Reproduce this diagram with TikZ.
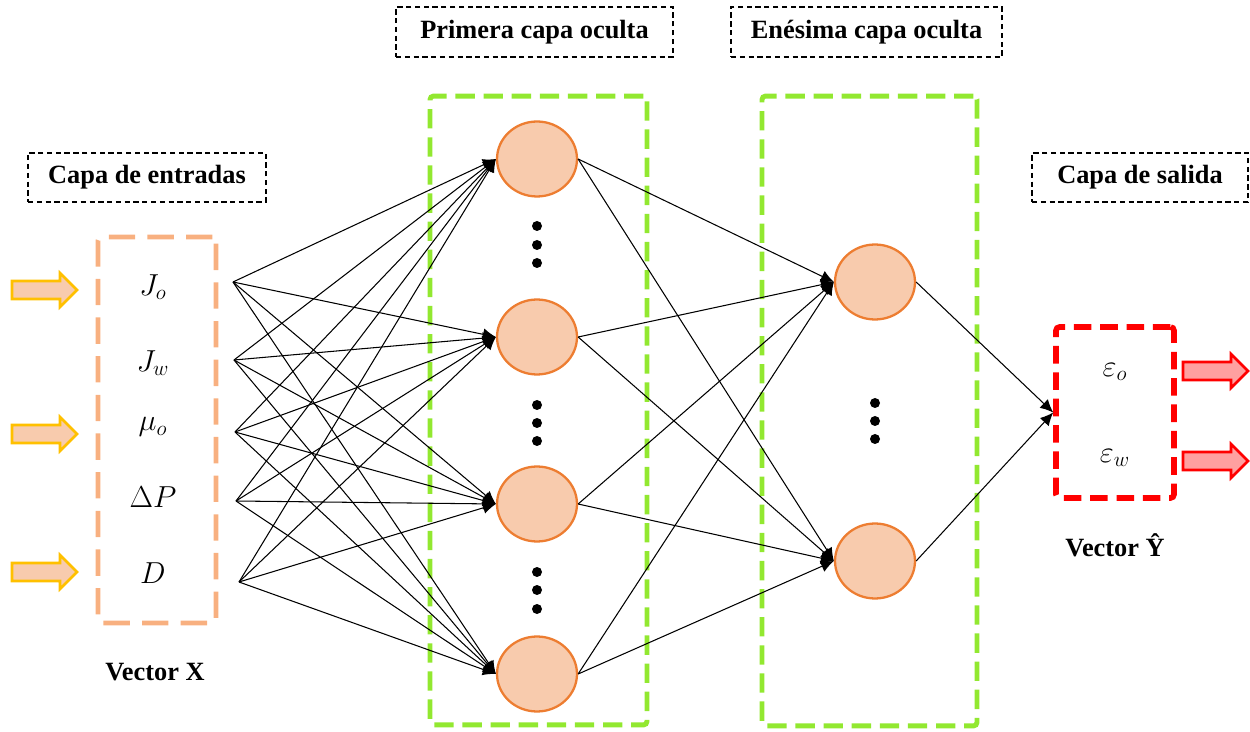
\documentclass[tikz,border=0pt]{standalone}
\usepackage{amsmath}
\usepackage{fontspec}
\setmainfont{Liberation Serif}
\usepackage{tikz}
\usetikzlibrary{arrows.meta,shapes.geometric}
\definecolor{inorange}{RGB}{248,176,128}
\definecolor{neuronfill}{RGB}{248,203,173}
\definecolor{neuronline}{RGB}{237,125,49}
\definecolor{layergreen}{RGB}{146,232,48}
\definecolor{arrowgold}{RGB}{255,192,0}
\definecolor{outfill}{RGB}{255,160,160}
\tikzset{
  block arrow/.pic={
    \draw [pic actions] (0,-9) -- (48,-9) -- (48,-17) -- (65,0) -- (48,17) -- (48,9) -- (0,9) -- cycle;
  },
  neuron/.style={ellipse, draw=neuronline, fill=neuronfill, line width=1.3pt,
    minimum width=1.6cm, minimum height=1.5cm, inner sep=0pt},
  layer box/.style={draw, line width=2.8pt, rounded corners=2pt, inner sep=0pt},
  layer title/.style={draw, densely dashed, line width=1pt, inner sep=0pt,
    font=\bfseries\fontsize{15}{18}\selectfont},
  var label/.style={font=\fontsize{17}{20}\selectfont},
  conn/.style={->, line width=0.6pt},
}

\begin{document}
\begin{tikzpicture}[x=0.02cm, y=-0.02cm, >={Latex[length=2.6mm,width=2.4mm]}]
    \useasboundingbox (0,0) rectangle (1250,732);
    % capas
    \node[layer box, draw=inorange, dash pattern=on 15pt off 7pt, minimum width=2.36cm, minimum height=7.72cm] (inbox) at (157,430) {};
    \node[layer box, draw=layergreen, dash pattern=on 11pt off 5pt, minimum width=4.34cm, minimum height=12.58cm] (layera) at (538.5,410.5) {};
    \node[layer box, draw=layergreen, dash pattern=on 11pt off 5pt, minimum width=4.3cm, minimum height=12.6cm] (layerb) at (869.5,411) {};
    \node[layer box, draw=red, line width=3.2pt, dash pattern=on 10pt off 5pt, minimum width=2.36cm, minimum height=3.42cm] (outbox) at (1115,412.5) {};
    % titulos
    \node[layer title, minimum width=4.76cm, minimum height=0.98cm] (tin) at (147,177.5) {Capa de entradas};
    \node[layer title, minimum width=5.54cm, minimum height=1cm] (ta) at (534.5,32) {Primera capa oculta};
    \node[layer title, minimum width=5.42cm, minimum height=1cm] (tb) at (866.5,32) {Enésima capa oculta};
    \node[layer title, minimum width=4.32cm, minimum height=0.98cm] (tout) at (1140,177.5) {Capa de salida};
    \node[font=\bfseries\fontsize{15}{18}\selectfont] (vecx) at (155,672) {Vector X};
    \node[font=\bfseries\fontsize{15}{18}\selectfont] (vecy) at (1115,545) {Vector Ŷ};
    % entradas
    \node[var label] (jo) at (153,287) {$J_o$};
    \node[var label] (jw) at (153,363) {$J_w$};
    \node[var label] (muo) at (153,427) {$\mu_o$};
    \node[var label] (dp) at (153,497) {$\Delta P$};
    \node[var label] (dd) at (153,573) {$D$};
    \coordinate (in1) at (233,282);
    \coordinate (in2) at (234,360);
    \coordinate (in3) at (235,432);
    \coordinate (in4) at (236,501);
    \coordinate (in5) at (239,582);
    \node[var label] (eo) at (1115,372) {$\varepsilon_o$};
    \node[var label] (ew) at (1115,458) {$\varepsilon_w$};
    % neuronas
    \foreach \y [count=\j] in {159,337,504,674}
      \node[neuron] (ha\j) at (537,\y) {};
    \foreach \y [count=\j] in {282,561}
      \node[neuron] (hb\j) at (875,\y) {};
    \foreach \y in {226,245,263,405,423,441,572,590,609}
      \fill (537,\y) circle (0.1cm);
    \foreach \y in {403,421,439}
      \fill (875,\y) circle (0.1cm);
    % conexiones
    \foreach \i in {1,...,5}
      \foreach \j in {1,...,4}
        \draw[conn] (in\i) -- (ha\j.west);
    \foreach \i in {1,...,4}
      \foreach \j in {1,2}
        \draw[conn] (ha\i.east) -- (hb\j.west);
    \foreach \j in {1,2}
      \draw[conn] (hb\j.east) -- (outbox.west);
    % flechas
    \foreach \y in {290,434,572}
      \pic[fill=neuronfill, draw=arrowgold, line width=1.5pt] at (12,\y) {block arrow};
    \foreach \y in {371,461}
      \pic[fill=outfill, draw=red, line width=1.5pt] at (1183,\y) {block arrow};
\end{tikzpicture}
\end{document}
